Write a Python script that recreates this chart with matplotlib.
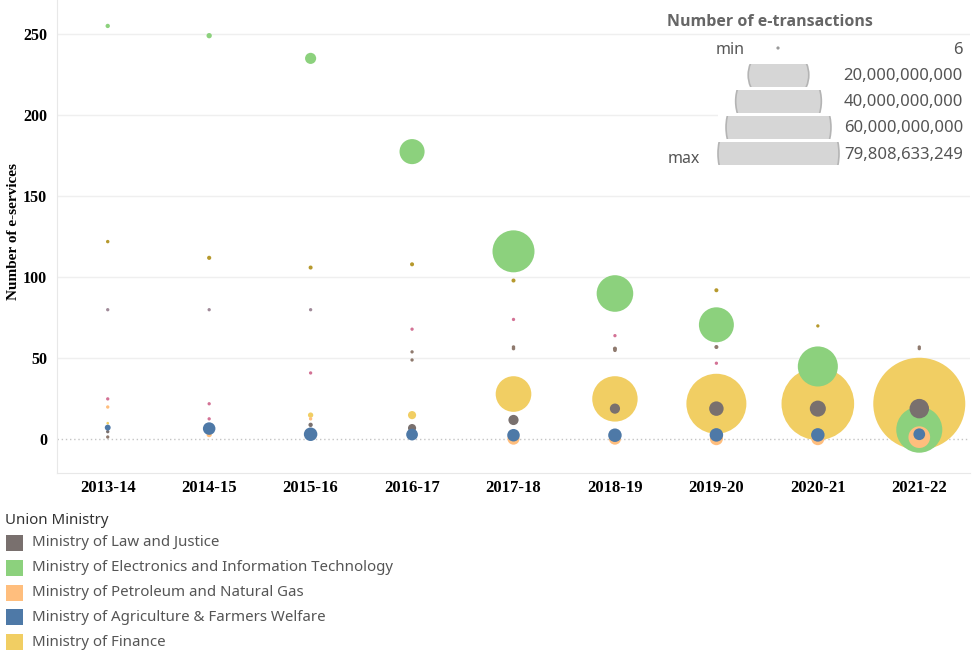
import numpy as np
import matplotlib.pyplot as plt
from matplotlib.patches import Circle, Rectangle

# Financial years on the x axis
years = ["2013-14", "2014-15", "2015-16", "2016-17", "2017-18",
         "2018-19", "2019-20", "2020-21", "2021-22"]

# Number of e-services (y) and e-transactions in billions (size) per ministry
law_services = [4.8, 5, 9, 7, 12, 19, 19, 19, 19]
law_trans = [0.08, 0.1, 0.15, 0.6, 0.95, 0.95, 1.95, 2.4, 3.55]

elec_services = [255, 249, 235, 177.5, 116, 90, 70.7, 45, 6]
elec_trans = [0.15, 0.24, 1.14, 5.9, 16.6, 12.6, 11.5, 15.1, 19.95]

petro_services = [20, 3, 12.7, 5, 0.5, 0.5, 0.5, 0.5, 1.4]
petro_trans = [0.08, 0.24, 0.08, 0.08, 1.36, 1.36, 1.6, 1.6, 4.4]

agri_services = [7.3, 6.7, 3.2, 3, 2.6, 2.6, 2.8, 2.8, 3.2]
agri_trans = [0.3, 1.45, 1.69, 1.27, 1.45, 1.69, 1.69, 1.69, 1.27]

fin_services = [10, 6, 15, 15, 28, 25, 22, 22, 22]
fin_trans = [0.04, 0.1, 0.24, 0.6, 11.95, 19.4, 33.9, 49.7, 79.808633249]

# Other ministries (small marks, not in the colour legend)
gold_idx = [0, 1, 2, 3, 4, 6, 7]
gold_services = [122, 112, 106, 108, 98, 92, 70]
gold_trans = [0.05, 0.1, 0.09, 0.09, 0.09, 0.09, 0.04]

mauve_idx = [0, 1, 2]
mauve_services = [80, 80, 80]
mauve_trans = [0.04, 0.04, 0.04]

pink_idx = [0, 1, 1, 2, 3, 4, 5, 6]
pink_services = [25, 22, 12.7, 41, 68, 74, 64, 47]
pink_trans = [0.04, 0.04, 0.04, 0.04, 0.04, 0.04, 0.04, 0.04]

brown_idx = [0, 3, 3, 4, 4, 5, 5, 6, 8, 8]
brown_services = [1.5, 54, 49, 57, 56, 56, 55, 57, 57, 56]
brown_trans = [0.04, 0.04, 0.04, 0.05, 0.05, 0.09, 0.06, 0.09, 0.04, 0.04]

# Size legend values
size_legend_vals = [20e9, 40e9, 60e9, 79808633249]
size_legend_labels = ["20,000,000,000", "40,000,000,000",
                      "60,000,000,000", "79,808,633,249"]

ministries = [
    ("Ministry of Law and Justice", "#79706e", law_services, law_trans, 3),
    ("Ministry of Electronics and Information Technology", "#8cd17d", elec_services, elec_trans, 2),
    ("Ministry of Petroleum and Natural Gas", "#ffbe7d", petro_services, petro_trans, 4),
    ("Ministry of Agriculture & Farmers Welfare", "#4e79a7", agri_services, agri_trans, 5),
    ("Ministry of Finance", "#f1ce63", fin_services, fin_trans, 1),
]

# biggest bubble (79.8 billion) has a radius of about 46 px at 100 dpi
max_trans = 79.808633249
max_s = (2 * 46 * 0.72) ** 2


def bubble_size(trans):
    return max_s * np.array(trans) / max_trans + 1.5


fig = plt.figure(figsize=(9.77, 6.58), dpi=100)
ax = fig.add_axes([57 / 977, 185 / 658, 913 / 977, 473 / 658])

x = np.arange(len(years))
for name, color, services, trans, z in ministries:
    ax.scatter(x, services, s=bubble_size(trans), color=color,
               linewidths=0, zorder=z + 2)

others = [("#b6992d", gold_idx, gold_services, gold_trans),
          ("#a08a99", mauve_idx, mauve_services, mauve_trans),
          ("#d37295", pink_idx, pink_services, pink_trans),
          ("#8f7a6e", brown_idx, brown_services, brown_trans)]
for color, idx, services, trans in others:
    ax.scatter(idx, services, s=bubble_size(trans) + 2, color=color,
               linewidths=0, zorder=8)

ax.set_xlim(-0.5, 8.5)
ax.set_ylim(-20.7, 271)
ax.set_yticks([0, 50, 100, 150, 200, 250])
ax.set_xticks(x)
ax.set_xticklabels(years)
for lab in ax.get_xticklabels():
    lab.set_fontfamily("Liberation Serif")
    lab.set_fontweight("bold")
    lab.set_fontsize(12)
for lab in ax.get_yticklabels():
    lab.set_fontfamily("Liberation Serif")
    lab.set_fontweight("bold")
    lab.set_fontsize(11.5)
ax.tick_params(length=0, pad=5)
ax.tick_params(axis="y", pad=7)

for y in [50, 100, 150, 200, 250]:
    ax.axhline(y, color="#efefef", lw=1, zorder=0)
ax.axhline(0, color="#c4c4c4", lw=1, ls=(0, (1, 2)), zorder=0)

for side in ["top", "right"]:
    ax.spines[side].set_visible(False)
ax.spines["left"].set_color("#e8e8e8")
ax.spines["bottom"].set_color("#e8e8e8")

fig.text(14 / 977, 1 - 232 / 658, "Number of e-services", rotation=90,
         ha="center", va="center", fontfamily="Liberation Serif",
         fontweight="bold", fontsize=11)

# Overlay in pixel coordinates for the two legends
ov = fig.add_axes([0, 0, 1, 1])
ov.set_xlim(0, 977)
ov.set_ylim(658, 0)
ov.axis("off")

# colour legend, bottom left
ov.text(5, 521, "Union Ministry", fontfamily="Noto Sans", fontsize=10.8,
        color="#333333", va="center", ha="left")
for i, (name, color, services, trans, z) in enumerate(ministries):
    yc = 543 + i * 24.8
    ov.add_patch(Rectangle((6, yc - 8), 17, 16, facecolor=color, edgecolor="none"))
    ov.text(32, yc, name, fontfamily="Noto Sans", fontsize=10.8,
            color="#555555", va="center", ha="left")

# size legend, top right
ov.add_patch(Rectangle((718, 40), 252, 128, facecolor="white", edgecolor="none"))
ov.text(667, 22, "Number of e-transactions", fontfamily="Open Sans",
        fontsize=11.5, fontweight="bold", color="#666666", va="center", ha="left")
ov.text(745, 50, "min", fontfamily="Noto Sans", fontsize=11.5, color="#555555",
        va="center", ha="right")
ov.text(700, 159, "max", fontfamily="Noto Sans", fontsize=11.5, color="#555555",
        va="center", ha="right")
ov.add_patch(Circle((778, 48), 1.6, facecolor="#999999", edgecolor="none"))
ov.text(963, 50, "6", fontfamily="Noto Sans", fontsize=12, color="#555555",
        va="center", ha="right")
for i, (val, lab) in enumerate(zip(size_legend_vals, size_legend_labels)):
    yc = 75 + i * 26.2
    d = 121 * np.sqrt(val / size_legend_vals[-1])
    clip = Rectangle((778.5 - d / 2 - 2, yc - 11.5), d + 4, 23,
                     transform=ov.transData, facecolor="none", edgecolor="none")
    ov.add_patch(clip)
    c = Circle((778.5, yc), d / 2, facecolor="#d6d6d6", edgecolor="#b4b4b4", lw=1.2)
    ov.add_patch(c)
    c.set_clip_path(clip)
    ov.text(963, yc + 1, lab, fontfamily="Noto Sans", fontsize=12,
            color="#555555", va="center", ha="right")

fig.savefig("out.png", dpi=100)
